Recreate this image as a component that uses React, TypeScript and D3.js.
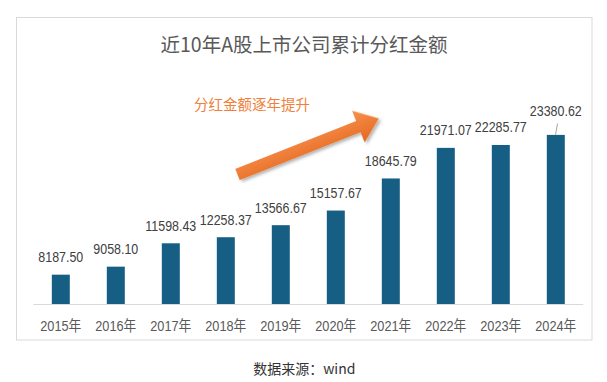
import React from "react";
import * as d3 from "d3";

const years = ["2015年", "2016年", "2017年", "2018年", "2019年", "2020年", "2021年", "2022年", "2023年", "2024年"];
const dividends = [8187.5, 9058.1, 11598.43, 12258.37, 13566.67, 15157.67, 18645.79, 21971.07, 22285.77, 23380.62];
const yDomain = [5000, 25000];
const title = "近10年A股上市公司累计分红金额";
const annotation = "分红金额逐年提升";
const source = "数据来源：wind";

const W = 607;
const H = 382;
const numFont = "'Liberation Sans', 'Noto Sans CJK SC', sans-serif";
const cjkFont = "'Noto Sans CJK SC', 'Liberation Sans', sans-serif";

export default function App() {
  const x = d3.scaleBand<string>().domain(years).range([33.3, 583.3]).paddingInner(0.673).paddingOuter(0.3365);
  const y = d3.scaleLinear().domain(yDomain).range([304, 120]);
  const bw = x.bandwidth();

  // arrow geometry (local frame, pointing right)
  const L = 152, sh = 6, hh = 17, hl = 22;
  const arrowPath = `M0,${-sh} L${L - hl},${-sh} L${L - hl},${-hh} L${L},0 L${L - hl},${hh} L${L - hl},${sh} L0,${sh} Z`;
  const tail = [237.5, 174.5];
  const tip = [379.3, 118.3];
  const ang = (Math.atan2(tip[1] - tail[1], tip[0] - tail[0]) * 180) / Math.PI;

  const last = years.length - 1;

  return (
    <svg width={W} height={H} style={{ position: "absolute", left: 0, top: 0, background: "#fff" }}>
      <defs>
        <linearGradient id="ag" x1="0" y1="0" x2="0" y2="1">
          <stop offset="0" stopColor="#F7914F" />
          <stop offset="1" stopColor="#E5681E" />
        </linearGradient>
        <filter id="sh" x="-20%" y="-50%" width="140%" height="200%">
          <feDropShadow dx="1.5" dy="2.5" stdDeviation="1.5" floodColor="#000" floodOpacity="0.3" />
        </filter>
      </defs>
      <rect x={16.5} y={17.5} width={575.5} height={322.5} fill="#fff" stroke="#D9D9D9" strokeWidth={1} />
      <text x={304} y={52} textAnchor="middle" fontFamily={cjkFont} fontSize={19.5} fill="#595959">
        {title}
      </text>
      <line x1={33.3} x2={583.3} y1={304.5} y2={304.5} stroke="#D9D9D9" strokeWidth={1} />
      {years.map((yr, i) => {
        const v = dividends[i];
        const bx = x(yr)!;
        const cx = bx + bw / 2;
        const top = y(v);
        const isLast = i === last;
        const ly = isLast ? top - 19 : top - 12.5;
        return (
          <g key={yr}>
            <rect x={bx} y={top} width={bw} height={304 - top} fill="#165E83" />
            {isLast && <line x1={cx + 1.7} y1={123.5} x2={cx - 0.3} y2={top} stroke="#A6A6A6" strokeWidth={1} />}
            <text
              transform={`translate(${cx},${ly}) scale(0.83,1)`}
              textAnchor="middle"
              fontFamily={numFont}
              fontSize={15}
              fill="#404040"
            >
              {v.toFixed(2)}
            </text>
            <text
              transform={`translate(${cx},${331}) scale(0.85,1)`}
              textAnchor="middle"
              fontFamily={numFont}
              fontSize={15}
              fill="#595959"
            >
              {yr}
            </text>
          </g>
        );
      })}
      <g transform={`translate(${tail[0]},${tail[1]}) rotate(${ang})`} filter="url(#sh)">
        <path d={arrowPath} fill="url(#ag)" />
      </g>
      <text x={194} y={110} fontFamily={cjkFont} fontSize={14.5} fill="#F07F3C">
        {annotation}
      </text>
      <text x={304.3} y={374} textAnchor="middle" fontFamily={cjkFont} fontSize={14} fill="#333">
        {source}
      </text>
    </svg>
  );
}
